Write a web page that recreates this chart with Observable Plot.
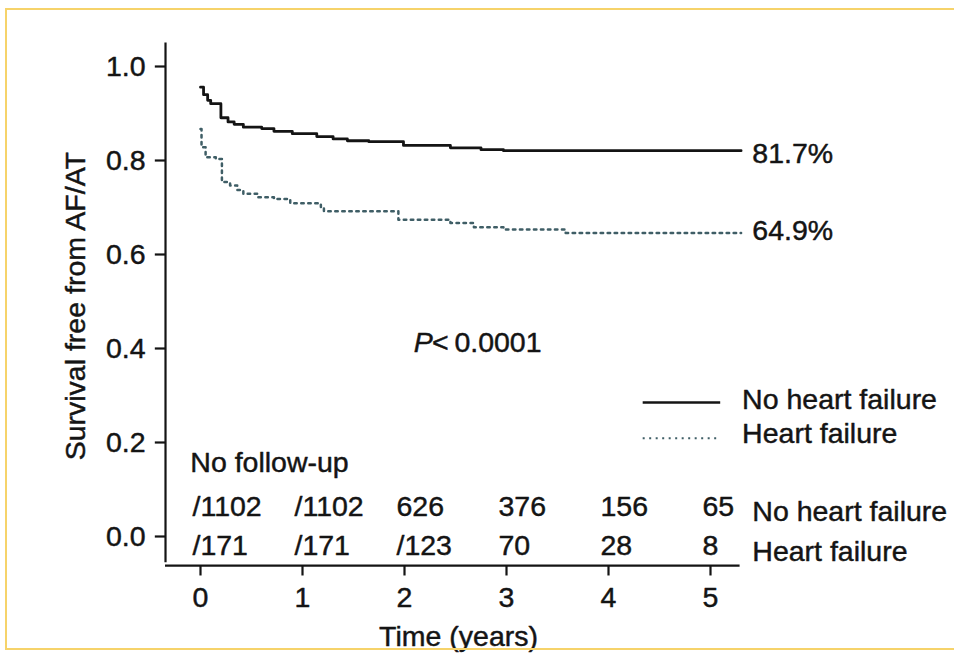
<!DOCTYPE html>
<html>
<head>
<meta charset="utf-8">
<script src="https://cdn.jsdelivr.net/npm/d3@7"></script>
<script src="https://cdn.jsdelivr.net/npm/@observablehq/plot@0.6"></script>
<style>
  html, body { margin: 0; padding: 0; background: #fff; }
  #wrap { position: relative; width: 954px; height: 656px; overflow: hidden; }
  #frame { position: absolute; left: 5px; top: 8px; width: 980px; height: 642px;
           border: 2px solid #f6d36a; box-sizing: border-box; pointer-events: none; }
</style>
</head>
<body>
<div id="wrap"><div id="chart"></div><div id="frame"></div></div>
<script>
// ---- data ----
const noHfTime = [0, 0.03, 0.07, 0.1, 0.2, 0.27, 0.33, 0.42, 0.6, 0.72, 0.9, 1.14, 1.3, 1.44, 1.65, 1.99, 2.45, 2.75, 2.97, 5.3];
const noHfSurv = [0.956, 0.94, 0.928, 0.921, 0.891, 0.882, 0.877, 0.871, 0.868, 0.862, 0.857, 0.851, 0.846, 0.842, 0.840, 0.832, 0.827, 0.823, 0.821, 0.821];
const hfTime = [0, 0.01, 0.05, 0.15, 0.21, 0.29, 0.36, 0.42, 0.56, 0.72, 0.88, 1.18, 1.21, 1.94, 2.45, 2.68, 2.97, 3.58, 5.3];
const hfSurv = [0.867, 0.828, 0.807, 0.803, 0.754, 0.747, 0.737, 0.729, 0.722, 0.718, 0.709, 0.701, 0.692, 0.674, 0.667, 0.658, 0.653, 0.646, 0.646];
const yTicks = [0, 0.2, 0.4, 0.6, 0.8, 1.0];
const yTickLabels = ["0.0", "0.2", "0.4", "0.6", "0.8", "1.0"];
const xTicks = [0, 1, 2, 3, 4, 5];
const xTickLabels = ["0", "1", "2", "3", "4", "5"];
const atRiskTimes = [0, 1, 2, 3, 4, 5];
const atRiskNoHf = ["/1102", "/1102", "626", "376", "156", "65"];
const atRiskHf = ["/171", "/171", "/123", "70", "28", "8"];
const groups = ["No heart failure", "Heart failure"];
const finalLabels = ["81.7%", "64.9%"];
const finalValues = [0.815, 0.651];
const pText = "<\u20090.0001";

const noHf = noHfTime.map((t, i) => ({t, s: noHfSurv[i]}));
const hf = hfTime.map((t, i) => ({t, s: hfSurv[i]}));

const FONT = "Liberation Sans, Arial, Helvetica, sans-serif";
const FS = 28.5;
const INK = "#141414";
const DOT = "#3f5e66";
const TS = {stroke: INK, strokeWidth: 0.45, fill: INK, fontSize: FS};
const axisX = -0.343;   // position of the y axis line, in years
const axisY = -0.062;   // position of the x axis line, in survival units

const chart = Plot.plot({
  width: 954, height: 656,
  marginLeft: 200, marginRight: 244, marginTop: 66, marginBottom: 120,
  x: {domain: [0, 5], axis: null},
  y: {domain: [0, 1], axis: null},
  style: {fontFamily: FONT, fontSize: FS + "px", background: "transparent", color: INK},
  marks: [
    // axes
    Plot.ruleX([axisX], {y1: axisY + 0.006, y2: 1.05, stroke: INK, strokeWidth: 2.2}),
    Plot.ruleY([axisY], {x1: axisX, x2: 5.29, stroke: INK, strokeWidth: 2.2}),
    Plot.ruleY(yTicks, {y: d => d, x1: axisX - 0.1, x2: axisX, stroke: INK, strokeWidth: 2.2}),
    Plot.ruleX(xTicks, {x: d => d, y1: axisY, y2: axisY - 0.022, stroke: INK, strokeWidth: 2.2}),
    Plot.text(yTicks, {x: axisX, y: d => d, text: (d, i) => yTickLabels[i], textAnchor: "end", dx: -20, ...TS}),
    Plot.text(xTicks, {x: d => d, y: -0.13, text: (d, i) => xTickLabels[i], ...TS}),
    Plot.text(["Time (years)"], {x: 2.53, y: -0.213, text: d => d, ...TS}),
    Plot.text(["Survival free from AF/AT"], {x: -1.225, y: 0.49, text: d => d, rotate: -90, ...TS}),
    // curves
    Plot.line(noHf, {x: "t", y: "s", curve: "step-after", stroke: INK, strokeWidth: 2.8}),
    Plot.line(hf, {x: "t", y: "s", curve: "step-after", stroke: DOT, strokeWidth: 2.5, strokeDasharray: "2.5,4.5"}),
    // end labels
    Plot.text(finalLabels, {x: 5.41, y: (d, i) => finalValues[i], text: d => d, textAnchor: "start", ...TS}),
    // p value
    Plot.text(["P"], {x: 2.09, y: 0.413, text: d => d, textAnchor: "start", fontStyle: "italic", ...TS}),
    Plot.text([pText], {x: 2.27, y: 0.413, text: d => d, textAnchor: "start", ...TS}),
    // legend
    Plot.ruleY([0.285], {x1: 4.34, x2: 5.1, stroke: INK, strokeWidth: 2.5}),
    Plot.ruleY([0.209], {x1: 4.34, x2: 5.1, stroke: DOT, strokeWidth: 2, strokeDasharray: "2,4.5"}),
    Plot.text(groups, {x: 5.31, y: (d, i) => [0.29, 0.219][i], text: d => d, textAnchor: "start", ...TS}),
    // numbers at risk
    Plot.text(["No follow-up"], {x: -0.1, y: 0.157, text: d => d, textAnchor: "start", ...TS}),
    Plot.text(atRiskTimes, {x: d => d, y: 0.062, text: (d, i) => atRiskNoHf[i], textAnchor: "start", dx: -8, ...TS}),
    Plot.text(atRiskTimes, {x: d => d, y: -0.021, text: (d, i) => atRiskHf[i], textAnchor: "start", dx: -8, ...TS}),
    Plot.text(groups, {x: 5.41, y: [0.052, -0.033], text: d => d, textAnchor: "start", ...TS})
  ]
});
document.getElementById("chart").appendChild(chart);
</script>
</body>
</html>
